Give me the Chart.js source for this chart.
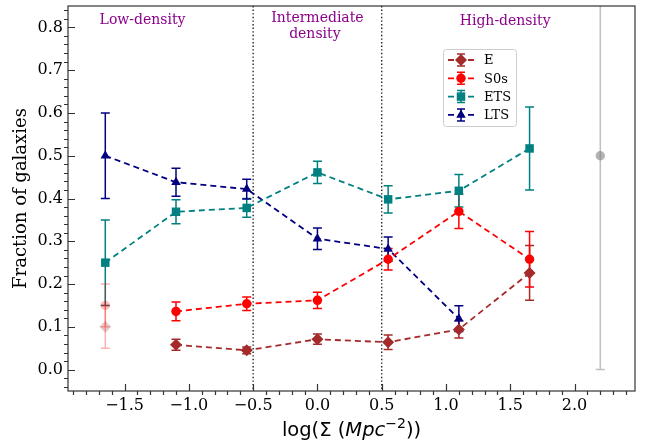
<!DOCTYPE html>
<html>
<head>
<meta charset="utf-8">
<script src="https://cdn.jsdelivr.net/npm/chart.js@4"></script>
<style>
  body { margin: 0; background: #fff; }
  #wrap { width: 645px; height: 447px; }
</style>
</head>
<body>
<div id="wrap"><canvas id="chart1" width="645" height="447"></canvas></div>
<script>
// log(Sigma) bin centres
const xs = [-1.65, -1.1, -0.55, 0.0, 0.55, 1.1, 1.65];

const eFrac = [null, 0.058, 0.045, 0.071, 0.064, 0.094, 0.226];
const eErr = [null, 0.013, 0.008, 0.012, 0.017, 0.02, 0.064];
const s0Frac = [null, 0.136, 0.154, 0.162, 0.258, 0.370, 0.258];
const s0Err = [null, 0.022, 0.016, 0.019, 0.025, 0.04, 0.065];
const etsFrac = [0.25, 0.369, 0.378, 0.461, 0.398, 0.418, 0.517];
const etsErr = [0.1, 0.028, 0.022, 0.026, 0.032, 0.038, 0.097];
const ltsFrac = [0.5, 0.438, 0.422, 0.306, 0.282, 0.119, null];
const ltsErr = [0.1, 0.033, 0.023, 0.025, 0.028, 0.03, null];

// faded points
const fadedX = [-1.65, -1.65];
const fadedY = [0.15, 0.1];
const fadedErr = [0.05, 0.05];
const greyX = [2.2];
const greyY = [0.5];
const greyErr = [0.5];

const xTicks = [-1.5, -1.0, -0.5, 0.0, 0.5, 1.0, 1.5, 2.0];
const yTicks = [0.0, 0.1, 0.2, 0.3, 0.4, 0.5, 0.6, 0.7, 0.8];
const boundaries = [-0.5, 0.5];

const pts = (x, y, err) => x.map((v, i) => ({ x: v, y: y[i], err: err[i] })).filter(p => p.y !== null);

const sizes = { rectRot: 6, circle: 4.7, rect: 6, triangle: 5.5 };

function series(label, color, style, y, err) {
  return {
    label: label,
    data: pts(xs, y, err),
    showLine: true,
    borderColor: color,
    backgroundColor: color,
    borderWidth: 1.8,
    borderDash: [6, 4],
    pointStyle: style,
    pointRadius: sizes[style],
    pointBorderWidth: 0,
    errColor: color,
  };
}

const datasets = [
  series("E", "#A52A2A", "rectRot", eFrac, eErr),
  series("S0s", "#FF0000", "circle", s0Frac, s0Err),
  series("ETS", "#008080", "rect", etsFrac, etsErr),
  series("LTS", "#000080", "triangle", ltsFrac, ltsErr),
  {
    label: "faded",
    data: [{ x: fadedX[0], y: fadedY[0], err: fadedErr[0] }],
    showLine: false,
    pointStyle: "circle",
    pointRadius: 4.7,
    pointBorderWidth: 0,
    backgroundColor: "rgba(255,0,0,0.25)",
    errColor: "rgba(255,0,0,0.3)",
  },
  {
    label: "faded2",
    data: [{ x: fadedX[1], y: fadedY[1], err: fadedErr[1] }],
    showLine: false,
    pointStyle: "rectRot",
    pointRadius: 6,
    pointBorderWidth: 0,
    backgroundColor: "rgba(165,42,42,0.25)",
    errColor: "rgba(255,0,0,0.3)",
  },
  {
    label: "grey",
    data: [{ x: greyX[0], y: greyY[0], err: greyErr[0] }],
    showLine: false,
    pointStyle: "circle",
    pointRadius: 4.7,
    pointBorderWidth: 0,
    backgroundColor: "rgba(128,128,128,0.6)",
    errColor: "rgba(128,128,128,0.5)",
  },
];

const serif = "'DejaVu Serif', serif";

const decor = {
  id: "decor",
  beforeDatasetsDraw(chart) {
    const ctx = chart.ctx;
    const xs_ = chart.scales.x, ys_ = chart.scales.y;
    const a = chart.chartArea;
    ctx.save();
    // boundaries
    ctx.strokeStyle = "#222";
    ctx.lineWidth = 1.4;
    ctx.setLineDash([1.4, 2.2]);
    boundaries.forEach(b => {
      const px = xs_.getPixelForValue(b);
      ctx.beginPath();
      ctx.moveTo(px, a.top);
      ctx.lineTo(px, a.bottom);
      ctx.stroke();
    });
    ctx.setLineDash([]);
    // error bars
    ctx.beginPath();
    ctx.rect(a.left, a.top, a.right - a.left, a.bottom - a.top);
    ctx.clip();
    chart.data.datasets.forEach(ds => {
      ctx.strokeStyle = ds.errColor;
      ctx.lineWidth = 1.5;
      ds.data.forEach(p => {
        const px = xs_.getPixelForValue(p.x);
        const y1 = ys_.getPixelForValue(p.y - p.err);
        const y2 = ys_.getPixelForValue(p.y + p.err);
        ctx.beginPath();
        ctx.moveTo(px, y1);
        ctx.lineTo(px, y2);
        ctx.moveTo(px - 4.5, y1);
        ctx.lineTo(px + 4.5, y1);
        ctx.moveTo(px - 4.5, y2);
        ctx.lineTo(px + 4.5, y2);
        ctx.stroke();
      });
    });
    ctx.restore();
  },
  afterDraw(chart) {
    const ctx = chart.ctx;
    const xs_ = chart.scales.x, ys_ = chart.scales.y;
    const a = chart.chartArea;
    ctx.save();
    // frame
    ctx.strokeStyle = "#333";
    ctx.lineWidth = 1.2;
    ctx.strokeRect(a.left, a.top, a.right - a.left, a.bottom - a.top);
    // ticks: major inward, minor outward
    ctx.beginPath();
    for (let i = -19; i <= 24; i++) {
      const v = i / 10;
      const px = Math.round(xs_.getPixelForValue(v)) + 0.5;
      if (i % 5 === 0) {
        ctx.moveTo(px, a.bottom);
        ctx.lineTo(px, a.bottom - 7);
      } else {
        ctx.moveTo(px, a.bottom);
        ctx.lineTo(px, a.bottom + 4);
      }
    }
    for (let i = -2; i <= 42; i++) {
      const v = i / 50;
      const py = Math.round(ys_.getPixelForValue(v)) + 0.5;
      if (i % 5 === 0) {
        ctx.moveTo(a.left, py);
        ctx.lineTo(a.left + 7, py);
      } else {
        ctx.moveTo(a.left, py);
        ctx.lineTo(a.left - 4, py);
      }
    }
    ctx.stroke();

    // region labels
    ctx.fillStyle = "#8B008B";
    ctx.font = "14px " + serif;
    ctx.textAlign = "center";
    ctx.textBaseline = "middle";
    ctx.fillText("Low-density", xs_.getPixelForValue(-1.36), 20);
    ctx.fillText("Intermediate", xs_.getPixelForValue(0.0), 18);
    ctx.fillText("density", xs_.getPixelForValue(-0.02), 34);
    ctx.fillText("High-density", xs_.getPixelForValue(1.46), 21);

    // axis titles
    ctx.fillStyle = "#000";
    ctx.font = "18px " + serif;
    ctx.save();
    ctx.translate(21, (a.top + a.bottom) / 2);
    ctx.rotate(-Math.PI / 2);
    ctx.fillText("Fraction of galaxies", 0, 0);
    ctx.restore();

    const sans = "'DejaVu Sans', sans-serif";
    const parts = [
      ["log(Σ (", "19.5px " + sans, 0],
      ["Mpc", "italic 19.5px " + sans, 0],
      ["−2", "14px " + sans, -8],
      ["))", "19.5px " + sans, 0],
    ];
    let total = 0;
    parts.forEach(p => { ctx.font = p[1]; total += ctx.measureText(p[0]).width; });
    let cx = (a.left + a.right) / 2 - total / 2;
    ctx.textAlign = "left";
    ctx.textBaseline = "alphabetic";
    parts.forEach(p => {
      ctx.font = p[1];
      ctx.fillText(p[0], cx, 436 + p[2]);
      cx += ctx.measureText(p[0]).width;
    });

    // legend
    const lx = 443, ly = 49, lw = 73, lh = 77;
    ctx.fillStyle = "rgba(255,255,255,0.85)";
    ctx.strokeStyle = "#ccc";
    ctx.lineWidth = 1;
    ctx.beginPath();
    ctx.roundRect(lx + 0.5, ly + 0.5, lw, lh, 3);
    ctx.fill();
    ctx.stroke();
    for (let i = 0; i < 4; i++) {
      const ds = chart.data.datasets[i];
      const yy = 60 + i * 18.3;
      ctx.strokeStyle = ds.borderColor;
      ctx.lineWidth = 1.8;
      ctx.setLineDash([6, 4]);
      ctx.beginPath();
      ctx.moveTo(448, yy);
      ctx.lineTo(474, yy);
      ctx.stroke();
      ctx.setLineDash([]);
      ctx.lineWidth = 1.5;
      ctx.beginPath();
      ctx.moveTo(461, yy - 6);
      ctx.lineTo(461, yy + 6);
      ctx.moveTo(457, yy - 6);
      ctx.lineTo(465, yy - 6);
      ctx.moveTo(457, yy + 6);
      ctx.lineTo(465, yy + 6);
      ctx.stroke();
      ctx.fillStyle = ds.backgroundColor;
      Chart.helpers.drawPoint(ctx, { pointStyle: ds.pointStyle, radius: ds.pointRadius, borderWidth: 0 }, 461, yy);
      ctx.fillStyle = "#000";
      ctx.font = "13px " + serif;
      ctx.textBaseline = "middle";
      ctx.fillText(ds.label, 484, yy + 1);
    }
    ctx.restore();
  },
};

const config1 = {
  type: "scatter",
  data: { datasets: datasets },
  options: {
    responsive: false,
    animation: false,
    layout: { padding: { left: 0, right: 10, top: 4, bottom: 0 } },
    plugins: { legend: { display: false }, tooltip: { enabled: false } },
    scales: {
      x: {
        type: "linear",
        min: -1.94,
        max: 2.47,
        grid: { display: false, drawTicks: false },
        border: { display: false },
        afterFit: s => { s.height = 56; s.paddingLeft = 0; s.paddingRight = 0; },
        afterBuildTicks: s => { s.ticks = xTicks.map(v => ({ value: v })); },
        ticks: {
          padding: 5,
          color: "#000",
          font: { family: serif, size: 16 },
          callback: v => v.toFixed(1).replace("-", "−"),
        },
      },
      y: {
        type: "linear",
        min: -0.05,
        max: 0.85,
        grid: { display: false, drawTicks: false },
        border: { display: false },
        afterFit: s => { s.width = 68; s.paddingTop = 0; s.paddingBottom = 0; },
        afterBuildTicks: s => { s.ticks = yTicks.map(v => ({ value: v })); },
        ticks: {
          padding: 5,
          color: "#000",
          font: { family: serif, size: 16 },
          callback: v => v.toFixed(1),
        },
      },
    },
  },
  plugins: [decor],
};

const chart1 = new Chart(document.getElementById("chart1"), config1);
</script>
</body>
</html>
